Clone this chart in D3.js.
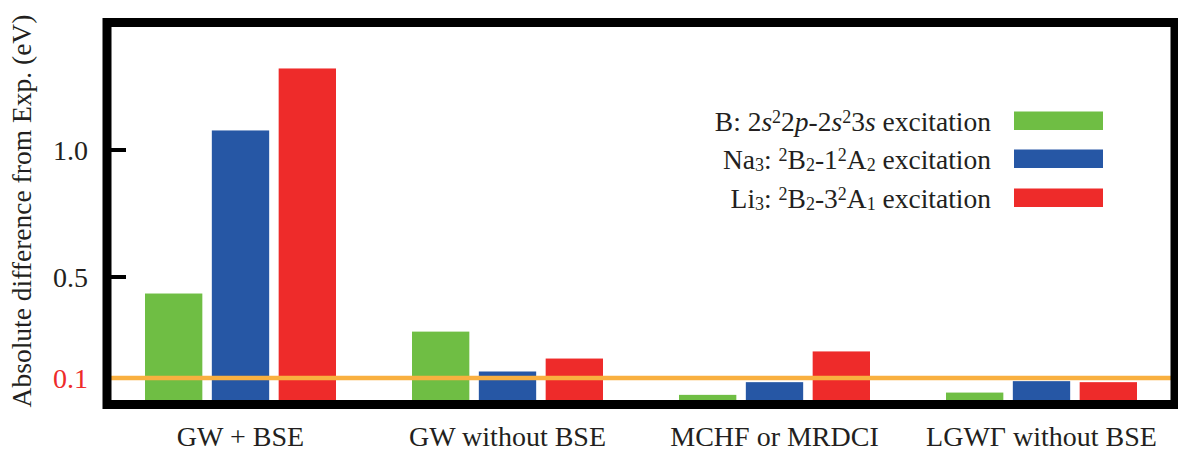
<!DOCTYPE html>
<html>
<head>
<meta charset="utf-8">
<script src="https://cdn.jsdelivr.net/npm/d3@7"></script>
<style>
  body { margin: 0; background: #fff; }
  svg text { font-family: "Liberation Serif", "Times New Roman", serif; fill: #231f20; }
</style>
</head>
<body>
<svg id="chart" width="1178" height="450"></svg>
<script>
// values (eV)
const groups = ["GW + BSE", "GW without BSE", "MCHF or MRDCI", "LGW\u0393 without BSE"];
const boron = [0.433, 0.283, 0.034, 0.043];
const sodium = [1.075, 0.126, 0.084, 0.088];
const lithium = [1.319, 0.177, 0.205, 0.084];
const yTicks = [0.5, 1.0];
const threshold = 0.1;

const seriesNames = ["boron", "sodium", "lithium"];
const colors = { boron: "#6fbe44", sodium: "#2657a5", lithium: "#ee2b2a" };

// legend lines as [text, style] pieces; style: i = italic, sup, sub
const legendRows = [
  { key: "boron", parts: [["B: 2"], ["s", "i"], ["2", "sup"], ["2"], ["p", "i"], ["-2"], ["s", "i"], ["2", "sup"], ["3"], ["s", "i"], [" excitation"]] },
  { key: "sodium", parts: [["Na"], ["3", "sub"], [": "], ["2", "sup"], ["B"], ["2", "sub"], ["-1"], ["2", "sup"], ["A"], ["2", "sub"], [" excitation"]] },
  { key: "lithium", parts: [["Li"], ["3", "sub"], [": "], ["2", "sup"], ["B"], ["2", "sub"], ["-3"], ["2", "sup"], ["A"], ["1", "sub"], [" excitation"]] }
];

const svg = d3.select("#chart");
const plotLeft = 107, plotRight = 1175, plotTop = 22.5, plotBottom = 403.5;

const x0 = d3.scaleBand().domain(groups).range([plotLeft, plotRight]);
const x1 = d3.scaleBand()
  .domain(seriesNames)
  .range([38, x0.bandwidth() - 38])
  .paddingInner(0.142);
const y = d3.scaleLinear().domain([0, 1.5]).range([plotBottom, plotTop]);

const rows = groups.map((g, i) => ({
  group: g,
  values: [
    { key: "boron", v: boron[i] },
    { key: "sodium", v: sodium[i] },
    { key: "lithium", v: lithium[i] }
  ]
}));

// bars
svg.append("g")
  .selectAll("g")
  .data(rows)
  .join("g")
  .attr("transform", d => `translate(${x0(d.group)},0)`)
  .selectAll("rect")
  .data(d => d.values)
  .join("rect")
  .attr("x", d => x1(d.key))
  .attr("width", x1.bandwidth())
  .attr("y", d => y(d.v))
  .attr("height", d => y(0) - y(d.v))
  .attr("fill", d => colors[d.key]);

// 0.1 eV reference line
svg.append("line")
  .attr("x1", plotLeft).attr("x2", plotRight)
  .attr("y1", y(threshold)).attr("y2", y(threshold))
  .attr("stroke", "#f9b040")
  .attr("stroke-width", 4.5);

// y axis ticks (inside) and labels
const yAxis = d3.axisLeft(y).tickValues(yTicks).tickFormat(d3.format(".1f")).tickSize(0).tickPadding(0);
const yg = svg.append("g").attr("transform", `translate(${plotLeft},0)`).call(yAxis);
yg.select(".domain").remove();
yg.selectAll(".tick line")
  .attr("x1", 0).attr("x2", 19)
  .attr("stroke", "#000").attr("stroke-width", 4);
yg.selectAll(".tick text")
  .attr("x", -19)
  .attr("dy", "0.34em")
  .attr("font-size", 28)
  .attr("fill", "#231f20");

svg.append("text")
  .attr("x", 88)
  .attr("y", y(threshold))
  .attr("dy", "0.34em")
  .attr("text-anchor", "end")
  .attr("font-size", 28)
  .style("fill", "#ee2b2a")
  .text("0.1");

// y title
svg.append("text")
  .attr("transform", `translate(31,${(plotTop + plotBottom) / 2 - 2}) rotate(-90)`)
  .attr("text-anchor", "middle")
  .attr("font-size", 27.5)
  .text("Absolute difference from Exp. (eV)");

// category labels
const xAxis = d3.axisBottom(x0).tickSize(0).tickPadding(0);
const xg = svg.append("g").attr("transform", `translate(0,${plotBottom})`).call(xAxis);
xg.select(".domain").remove();
xg.selectAll(".tick text")
  .attr("y", 42)
  .attr("dy", 0)
  .attr("font-size", 28)
  .attr("fill", "#231f20");

// frame
svg.append("rect")
  .attr("x", plotLeft).attr("y", plotTop)
  .attr("width", plotRight - plotLeft).attr("height", plotBottom - plotTop + 1)
  .attr("fill", "none")
  .attr("stroke", "#000")
  .attr("stroke-width", 9);

// legend
const legend = svg.append("g");
const legendY = [131, 169, 208];
legendRows.forEach((row, i) => {
  const t = legend.append("text")
    .attr("x", 991)
    .attr("y", legendY[i])
    .attr("text-anchor", "end")
    .attr("font-size", 27.5);
  row.parts.forEach(([s, st]) => {
    const sp = t.append("tspan").text(s);
    if (st === "i") sp.attr("font-style", "italic");
    if (st === "sup") sp.attr("font-size", 18).attr("baseline-shift", "45%");
    if (st === "sub") sp.attr("font-size", 18).attr("baseline-shift", "-12%");
  });
  legend.append("rect")
    .attr("x", 1014).attr("y", legendY[i] - 19.5)
    .attr("width", 89).attr("height", 18.5)
    .attr("fill", colors[row.key]);
});
</script>
</body>
</html>
